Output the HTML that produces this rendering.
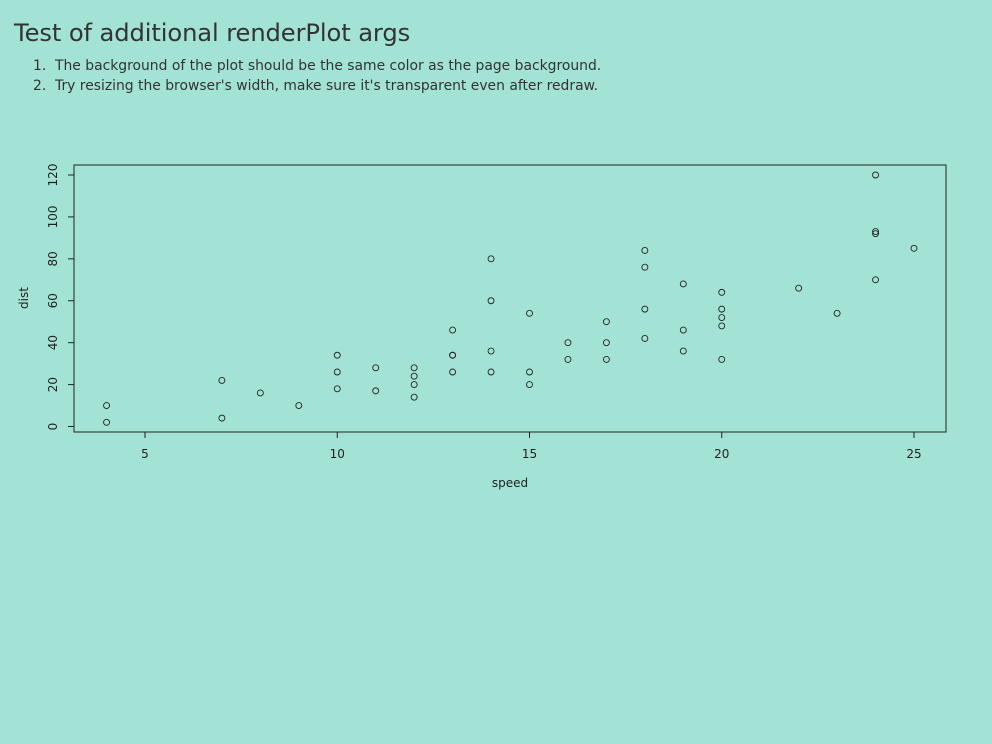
<!DOCTYPE html>
<html><head><meta charset="utf-8"><style>
body{margin:0;width:992px;height:744px;background:#a2e3d6;font-family:"Liberation Sans","DejaVu Sans",sans-serif;color:#333;overflow:hidden}
h1{position:absolute;left:14px;top:19px;margin:0;font-size:24.2px;font-weight:normal;font-family:"DejaVu Sans",sans-serif;letter-spacing:-0.1px;white-space:nowrap}
.li{position:absolute;font-size:13.9px;font-family:"DejaVu Sans",sans-serif;white-space:nowrap;line-height:16px}
svg{position:absolute;left:0;top:0}
</style></head><body>
<h1>Test of additional renderPlot args</h1>
<div>
<span class="li" style="left:33px;top:58px">1.</span>
<span class="li" style="left:55px;top:58px">The background of the plot should be the same color as the page background.</span>
<span class="li" style="left:33px;top:78px">2.</span>
<span class="li" style="left:55px;top:78px">Try resizing the browser's width, make sure it's transparent even after redraw.</span>
</div>
<svg id="chart" width="992" height="744"></svg>
<script>
const speed=[4,4,7,7,8,9,10,10,10,11,11,12,12,12,12,13,13,13,13,14,14,14,14,15,15,15,16,16,17,17,17,18,18,18,18,19,19,19,20,20,20,20,20,22,23,24,24,24,24,25];
const dist=[2,10,4,22,16,10,18,26,34,17,28,14,20,24,28,26,34,34,46,26,36,60,80,20,26,54,32,40,32,40,50,42,56,76,84,36,46,68,32,48,52,56,64,66,54,70,92,93,120,85];
const xTicks=[5,10,15,20,25];
const yTicks=[0,20,40,60,80,100,120];
const NS="http://www.w3.org/2000/svg";
const svg=document.getElementById('chart');
const X=v=>145+(v-5)*(914-145)/20;
const Y=v=>426.5-v*(426.5-175)/120;
function mk(t,a){const e=document.createElementNS(NS,t);for(const k in a)e.setAttribute(k,a[k]);svg.appendChild(e);return e;}
const box=mk('rect',{x:74,y:165,width:872,height:267,fill:'none',stroke:'#222','stroke-width':1});


xTicks.forEach(v=>{
 const l=mk('line',{x1:X(v),x2:X(v),y1:432,y2:438,stroke:'#222'});
 
 
 const t=mk('text',{x:X(v),y:458,'text-anchor':'middle','font-size':12,fill:'#222','font-family':'DejaVu Sans,sans-serif'});
 t.textContent=v;
 
 
});
yTicks.forEach(v=>{
 const l=mk('line',{x1:68,x2:74,y1:Y(v),y2:Y(v),stroke:'#222'});
 
 
 const t=mk('text',{x:57,y:Y(v),'text-anchor':'middle','font-size':12,fill:'#222','font-family':'DejaVu Sans,sans-serif',transform:`rotate(-90 57 ${Y(v)})`});
 t.textContent=v;
 
 
});
const xt=mk('text',{x:510,y:487,'text-anchor':'middle','font-size':12,fill:'#222','font-family':'DejaVu Sans,sans-serif'});
xt.textContent='speed';


const yt=mk('text',{x:28,y:298,'text-anchor':'middle','font-size':12,fill:'#222','font-family':'DejaVu Sans,sans-serif',transform:'rotate(-90 28 298)'});
yt.textContent='dist';


speed.forEach((s,i)=>{
 const c=mk('circle',{cx:X(s),cy:Y(dist[i]),r:3,fill:'none',stroke:'#222','stroke-width':0.9});
 
 
});
</script>
</body></html>
